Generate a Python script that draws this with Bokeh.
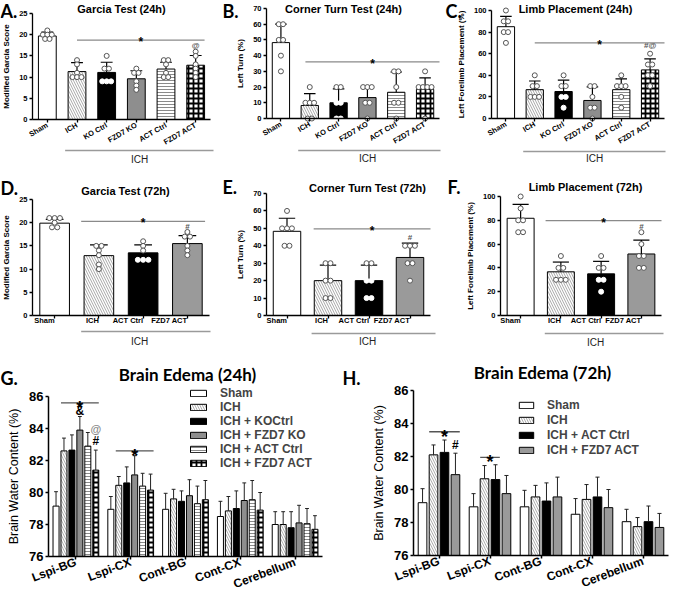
import math
from bokeh.plotting import figure
from bokeh.layouts import row, column
from bokeh.models import FixedTicker, Label, Legend, LegendItem, Range1d
from bokeh.embed import file_html
from bokeh.resources import INLINE
from bokeh.core.properties import value

# ---------------- data ----------------
a_groups = ["Sham", "ICH", "KO Ctrl", "FZD7 KO", "ACT Ctrl", "FZD7 ACT"]
a_mean = [19.7, 11.3, 11.1, 9.6, 11.9, 12.8]
a_sd = [0.9, 2.1, 2.4, 1.9, 1.6, 2.3]
a_points = [[21, 20, 20, 20, 19, 19], [14, 13, 11, 10, 10, 10], [15, 12, 12, 9, 9, 9],
            [12, 11, 11, 9, 8, 7], [14, 14, 13, 11, 10, 10], [16, 15, 13, 12, 11, 10]]
a_sig = 18.7
a_mark = ("@", 17.4)

b_groups = ["Sham", "ICH", "KO Ctrl", "FZD7 KO", "ACT Ctrl", "FZD7 ACT"]
b_mean = [48.3, 8.3, 10.0, 13.3, 16.7, 18.5]
b_sd = [11.7, 7.5, 8.9, 7.0, 12.9, 7.3]
b_points = [[60, 60, 50, 50, 40, 30], [20, 10, 10, 10, 0, 0], [20, 20, 10, 10, 0, 0],
            [20, 20, 20, 10, 10, 0], [30, 30, 20, 10, 10, 0], [30, 20, 20, 20, 20, 0]]
b_sig = 36.0
b_mark = None

c_groups = ["Sham", "ICH", "KO Ctrl", "FZD7 KO", "ACT Ctrl", "FZD7 ACT"]
c_mean = [85.0, 26.7, 25.0, 16.7, 26.7, 45.0]
c_sd = [9.5, 8.0, 10.5, 12.5, 10.0, 10.2]
c_points = [[100, 90, 90, 80, 80, 70], [40, 30, 30, 20, 20, 20], [40, 30, 30, 20, 20, 10],
            [30, 30, 20, 10, 10, 0], [40, 30, 30, 30, 20, 10], [60, 50, 50, 40, 40, 30]]
c_sig = 70.0
c_mark = ("#@", 67.5)

d_groups = ["Sham", "ICH", "ACT Ctrl", "FZD7 ACT"]
d_mean = [19.9, 12.9, 13.5, 15.5]
d_sd = [0.8, 2.3, 1.7, 1.7]
d_points = [[21, 21, 21, 20, 19, 19], [15, 15, 14, 13, 11, 10], [16, 15, 14, 12, 12, 12],
            [18, 17, 17, 15, 14, 13]]
d_sig = 20.3
d_mark = ("#", 19.1)

e_groups = ["Sham", "ICH", "ACT Ctrl", "FZD7 ACT"]
e_mean = [48.3, 20.0, 20.0, 33.3]
e_sd = [7.5, 8.9, 8.9, 8.2]
e_points = [[60, 50, 50, 50, 40, 40], [30, 30, 20, 20, 10, 10], [30, 30, 20, 20, 10, 10],
            [40, 40, 40, 30, 30, 20]]
e_sig = 49.7
e_mark = ("#", 45.0)

f_groups = ["Sham", "ICH", "ACT Ctrl", "FZD7 ACT"]
f_mean = [81.7, 36.7, 35.0, 51.7]
f_sd = [11.7, 8.2, 10.5, 11.7]
f_points = [[100, 90, 80, 80, 70, 70], [50, 40, 40, 30, 30, 30], [50, 40, 40, 30, 30, 20],
            [70, 60, 50, 50, 40, 40]]
f_sig = 79.8
f_mark = ("#", 75.0)

regions = ["Lspi-BG", "Lspi-CX", "Cont-BG", "Cont-CX", "Cerebellum"]

g_series = ["Sham", "ICH", "ICH + KOCtrl", "ICH + FZD7 KO", "ICH + ACT Ctrl", "ICH + FZD7 ACT"]
g_sham = [79.15, 78.95, 78.95, 78.5, 78.0]
g_sham_sd = [0.9, 0.8, 1.0, 0.95, 0.8]
g_ich = [82.6, 80.45, 79.6, 78.85, 78.0]
g_ich_sd = [0.8, 0.55, 0.6, 0.9, 0.8]
g_koctrl = [82.65, 80.6, 79.45, 79.0, 77.8]
g_koctrl_sd = [0.95, 1.0, 0.65, 1.1, 1.0]
g_fzd7ko = [83.9, 81.1, 79.8, 79.5, 78.1]
g_fzd7ko_sd = [0.85, 1.2, 1.0, 1.1, 1.1]
g_actctrl = [82.9, 80.4, 79.3, 79.55, 78.05]
g_actctrl_sd = [0.85, 0.8, 1.1, 1.2, 0.95]
g_fzd7act = [81.4, 80.15, 79.55, 78.9, 77.7]
g_fzd7act_sd = [1.25, 1.0, 1.2, 1.1, 0.85]
g_sig = [(0, 1, 5, 85.6), (1, 1, 5, 82.6)]          # region, first bar, last bar, y
g_marks = [("&", 0, 3, 85.1), ("@", 0, 5, 84.0), ("#", 0, 5, 83.25)]

h_series = ["Sham", "ICH", "ICH + ACT Ctrl", "ICH + FZD7 ACT"]
h_sham = [79.2, 78.95, 78.95, 78.5, 78.05]
h_sham_sd = [0.85, 0.8, 1.0, 0.95, 0.75]
h_ich = [82.1, 80.65, 79.55, 79.4, 77.75]
h_ich_sd = [0.6, 0.8, 0.7, 0.9, 0.55]
h_actctrl = [82.25, 80.6, 79.3, 79.55, 78.05]
h_actctrl_sd = [0.75, 0.9, 1.1, 1.2, 0.95]
h_fzd7act = [80.9, 79.75, 79.55, 78.9, 77.7]
h_fzd7act_sd = [1.3, 1.1, 1.2, 1.1, 0.85]
h_sig = [(0, 1, 3, 83.5), (1, 1, 2, 81.95)]
h_marks = [("#", 0, 3, 82.7)]

# ---------------- styles ----------------
FONT = "Liberation Sans"
LFONT = "Lato"
GRAY = "#9a9a9a"
PT_EDGE = "#555555"


def st(fill, hatch=None, hcolor="white", hscale=5, hweight=1.3, dark=False):
    return dict(fill=fill, hatch=hatch, hcolor=hcolor, hscale=hscale, hweight=hweight, dark=dark)


STY6 = {
    "Sham": st("white"),
    "ICH": st("#a9a9a9", "\\", "white", 5, 1.4),
    "KO Ctrl": st("black", dark=True),
    "FZD7 KO": st("#8e8e8e"),
    "ACT Ctrl": st("white", "-", "#8a8a8a", 3, 1.0),
    "FZD7 ACT": st("white", "+", "black", 5, 1.8),
}
STY4 = {
    "Sham": st("white"),
    "ICH": st("#a9a9a9", "\\", "white", 5, 1.4),
    "ACT Ctrl": st("black", dark=True),
    "FZD7 ACT": st(GRAY),
}
G_STY = [STY6[k] for k in ["Sham", "ICH", "KO Ctrl", "FZD7 KO", "ACT Ctrl", "FZD7 ACT"]]
H_STY = [STY4[k] for k in ["Sham", "ICH", "ACT Ctrl", "FZD7 ACT"]]


def swarm(vals, dx):
    counts = {}
    for v in vals:
        counts[v] = counts.get(v, 0) + 1
    seen = {}
    offs = []
    for v in vals:
        k = seen.get(v, 0)
        seen[v] = k + 1
        offs.append((k - (counts[v] - 1) / 2) * dx)
    return offs


def base_fig(canvas, axbox, xd, yd):
    """Figure whose frame is the whole canvas; axes pinned at the data origin."""
    cx0, cy0, cx1, cy1 = canvas
    fx0, fy0, fx1, fy1 = axbox
    sx = (fx1 - fx0) / (xd[1] - xd[0])
    sy = (fy1 - fy0) / (yd[1] - yd[0])
    p = figure(width=cx1 - cx0, height=cy1 - cy0,
               x_range=Range1d(xd[0] - (fx0 - cx0) / sx, xd[1] + (cx1 - fx1) / sx),
               y_range=Range1d(yd[0] - (cy1 - fy1) / sy, yd[1] + (fy0 - cy0) / sy),
               min_border=0, output_backend="svg", toolbar_location=None, tools="")
    conv = dict(px=lambda v: xd[0] + (v - fx0) / sx, py=lambda v: yd[0] + (fy1 - v) / sy,
                sx=lambda v: v - cx0, sy=lambda v: cy1 - v)
    p.xaxis.fixed_location = yd[0]
    p.xaxis.bounds = xd
    p.yaxis.fixed_location = xd[0]
    p.yaxis.bounds = yd
    p.grid.visible = False
    p.outline_line_color = None
    return p, conv


def style_axes(p, tick_size, label_size, label_style="bold", lw=1.3, ytick_size=None):
    for ax in (p.xaxis[0], p.yaxis[0]):
        ax.axis_line_width = lw
        ax.axis_line_color = "black"
        ax.major_tick_line_width = lw
        ax.major_tick_line_color = "black"
        ax.major_tick_out = 3
        ax.major_tick_in = 0
        ax.minor_tick_line_color = None
        ax.major_label_text_font = FONT
        ax.major_label_text_font_style = "bold"
        ax.major_label_text_font_size = tick_size
        ax.major_label_text_color = "black"
        ax.major_label_standoff = 2
        ax.axis_label_text_font = FONT
        ax.axis_label_text_font_style = label_style
        ax.axis_label_text_font_size = label_size
        ax.axis_label_text_color = "black"
    if ytick_size:
        p.yaxis.major_label_text_font_size = ytick_size


def label(p, x, y, text, size, font=FONT, style="bold", align="center", color="black"):
    p.add_layout(Label(x=x, y=y, x_units="screen", y_units="screen", text=text, text_font=font,
                       text_font_style=style, text_font_size=size, text_align=align,
                       text_baseline="middle", text_color=color))


def small_panel(groups, means, sds, points, sig_y, mark, styles, yticks, ylabel, title, letter, L):
    n = len(groups)
    p, c = base_fig(L["canvas"], L["axbox"], (-0.5, n - 0.5), (yticks[0], yticks[-1]))
    bw = L["bw"]
    for i, g in enumerate(groups):
        s = styles[g]
        p.vbar(x=[i], top=[means[i]], bottom=0, width=bw, fill_color=s["fill"],
               line_color="black", line_width=1, hatch_pattern=s["hatch"],
               hatch_color=s["hcolor"], hatch_scale=s["hscale"], hatch_weight=s["hweight"])
    xs = list(range(n))
    ups = [m + s for m, s in zip(means, sds)]
    p.segment(x0=xs, y0=means, x1=xs, y1=ups, line_color="black", line_width=1.2)
    cw = L["cap"]
    p.segment(x0=[x - cw / 2 for x in xs], y0=ups, x1=[x + cw / 2 for x in xs], y1=ups,
              line_color="black", line_width=1.2)
    for i, g in enumerate(groups):
        s = styles[g]
        offs = swarm(points[i], L["dx"])
        # on dark bars, points inside the bar are white dots; above it, open circles
        edges = [("white" if (s["dark"] and v <= means[i]) else PT_EDGE) for v in points[i]]
        p.scatter(x=[i + o for o in offs], y=points[i], size=L["ps"], marker="circle",
                  fill_color="white", line_color=edges, line_width=1)
    # significance line and star
    x0, x1 = L["sig"]
    p.line(x=[x0, x1], y=[sig_y, sig_y], line_color="#8a8a8a", line_width=1.2)
    p.text(x=[(x0 + x1) / 2], y=[sig_y], text=["*"], text_font=value(FONT),
           text_font_style="bold", text_font_size="12px", text_align="center",
           text_baseline="alphabetic", y_offset=2, text_color="black")
    if mark is not None:
        p.text(x=[n - 1], y=[mark[1]], text=[mark[0]], text_font=value(FONT),
               text_font_style="bold", text_font_size="8px", text_align="center",
               text_baseline="middle", text_color="#555555")
    style_axes(p, "7.5px", "8px")
    p.xaxis.ticker = FixedTicker(ticks=xs)
    p.xaxis.major_label_overrides = {i: g for i, g in enumerate(groups)}
    p.xaxis.major_label_orientation = L["rot"]
    p.yaxis.ticker = FixedTicker(ticks=yticks)
    p.yaxis.axis_label = ylabel
    p.yaxis.axis_label_standoff = 5
    # ICH bracket below the category labels
    by = c["py"](L["bry"])
    p.segment(x0=[L["br0"]], y0=[by], x1=[c["px"](L["brx1"])], y1=[by],
              line_color="#9a9a9a", line_width=1.3)
    label(p, c["sx"](L["ich"][0]), c["sy"](L["ich"][1]), "ICH", "10px", style="normal",
          color="#222222")
    label(p, c["sx"](L["title"][0]), c["sy"](L["title"][1]), title, "11px")
    label(p, c["sx"](L["letter"][0]), c["sy"](L["letter"][1]), letter, "18px", font=LFONT,
          align="left")
    return p


def edema_panel(series, means, sds, styles, sigs, marks, title, letter, L):
    k = len(series)
    p, c = base_fig(L["canvas"], L["axbox"], (-0.5, len(regions) - 0.5), (76, 86))
    pitch, bw = L["pitch"], L["bw"]
    rx = list(range(len(regions)))
    items = []

    def bx(r, j):
        return r + (j - (k - 1) / 2) * pitch

    for j in range(k):
        s = styles[j]
        xs = [bx(r, j) for r in rx]
        rend = p.vbar(x=xs, top=means[j], bottom=76, width=bw, fill_color=s["fill"],
                      line_color="black", line_width=1, hatch_pattern=s["hatch"],
                      hatch_color=s["hcolor"], hatch_scale=s["hscale"], hatch_weight=s["hweight"])
        items.append(LegendItem(label=series[j], renderers=[rend]))
        ups = [m + d for m, d in zip(means[j], sds[j])]
        p.segment(x0=xs, y0=means[j], x1=xs, y1=ups, line_color="#222222", line_width=1)
        p.segment(x0=[x - L["cap"] / 2 for x in xs], y0=ups, x1=[x + L["cap"] / 2 for x in xs],
                  y1=ups, line_color="#222222", line_width=1)
    for (r, j0, j1, y) in sigs:
        xa, xb = bx(r, j0) - bw / 2, bx(r, j1) + bw / 2
        p.line(x=[xa, xb], y=[y, y], line_color="#555555", line_width=1.3)
        p.text(x=[(xa + xb) / 2], y=[y], text=["*"], text_font=value(FONT),
               text_font_style="bold", text_font_size="18px", text_align="center",
               text_baseline="alphabetic", y_offset=5, text_color="black")
    for (t, r, j, y) in marks:
        p.text(x=[bx(r, j)], y=[y], text=[t], text_font=value(FONT), text_font_style="bold",
               text_font_size="12px" if t != "@" else "11px", text_align="center",
               text_baseline="middle", text_color="#888888" if t == "@" else "black")
    cx0, cy0, cx1, cy1 = L["canvas"]
    lx, lbot = L["leg"]
    legend = Legend(items=items, location=(lx - cx0 - 2, cy1 - lbot - 2),
                    background_fill_alpha=0, border_line_color=None, label_text_font=FONT,
                    label_text_font_style="bold", label_text_font_size="12px",
                    glyph_width=L["gw"], glyph_height=8, label_standoff=12, spacing=L["lsp"],
                    padding=2, margin=0, label_height=12)
    p.add_layout(legend)
    style_axes(p, "12px", "12.5px", label_style="normal", lw=1.5, ytick_size="13px")
    p.xaxis.ticker = FixedTicker(ticks=rx)
    p.xaxis.major_label_overrides = {i: g for i, g in enumerate(regions)}
    p.xaxis.major_label_orientation = 0.36
    p.yaxis.ticker = FixedTicker(ticks=[76, 78, 80, 82, 84, 86])
    p.yaxis.axis_label = "Brain Water Content (%)"
    p.yaxis.axis_label_standoff = 5
    label(p, c["sx"](L["title"][0]), c["sy"](L["title"][1]), title, "17px", font=LFONT)
    label(p, c["sx"](L["letter"][0]), c["sy"](L["letter"][1]), letter, "18px", font=LFONT,
          align="left")
    return p


# ---------------- layout (page pixel positions) ----------------
R6 = math.pi / 6
Y1, Y2, Y3, Y4 = 8, 178, 362, 607
LA = dict(canvas=(8, Y1, 225, Y2), axbox=(40, 21, 218, 127), bw=0.6, cap=0.4, dx=0.15, ps=5,
          rot=R6, sig=(1.0, 5.3), br0=0.6, brx1=221, bry=158, ich=(147, 167),
          title=(129, 16), letter=(8, 18))
LB = dict(canvas=(225, Y1, 450, Y2), axbox=(274, 16, 447, 126), bw=0.6, cap=0.4, dx=0.15, ps=5,
          rot=R6, sig=(0.85, 5.5), br0=0.6, brx1=448, bry=158, ich=(375, 166),
          title=(351, 16), letter=(230, 18))
LC = dict(canvas=(450, Y1, 677, Y2), axbox=(499, 18, 672, 126), bw=0.6, cap=0.4, dx=0.15, ps=5,
          rot=R6, sig=(1.0, 5.5), br0=0.6, brx1=673, bry=159, ich=(602, 166),
          title=(583, 16), letter=(453, 18))
LD = dict(canvas=(8, Y2, 225, Y3), axbox=(40, 207, 217, 323), bw=0.67, cap=0.4, dx=0.12, ps=5,
          rot=0, sig=(0.6, 3.4), br0=0.6, brx1=218, bry=339, ich=(147, 349),
          title=(133, 198), letter=(8, 195))
LE = dict(canvas=(225, Y2, 452, Y3), axbox=(274, 201, 438, 323), bw=0.67, cap=0.4, dx=0.12,
          ps=5, rot=0, sig=(0.65, 3.5), br0=0.6, brx1=443, bry=341, ich=(375, 349),
          title=(375, 195), letter=(230, 194))
LF = dict(canvas=(452, Y2, 677, Y3), axbox=(508, 204, 669, 323), bw=0.67, cap=0.4, dx=0.12,
          ps=5, rot=0, sig=(0.62, 3.5), br0=0.6, brx1=671, bry=341, ich=(603, 350),
          title=(593, 194), letter=(455, 194))
LG = dict(canvas=(8, Y3, 345, Y4), axbox=(56, 404, 330, 564), pitch=0.145, bw=0.11, cap=0.07,
          leg=(198, 476), lsp=0, gw=20, title=(195, 382), letter=(8, 385))
LH = dict(canvas=(345, Y3, 677, Y4), axbox=(421, 398, 676, 563), pitch=0.215, bw=0.17,
          cap=0.08, leg=(527, 463), lsp=1, gw=18, title=(550, 380), letter=(350, 385))

pA = small_panel(a_groups, a_mean, a_sd, a_points, a_sig, a_mark, STY6, [0, 5, 10, 15, 20, 25],
                 "Modified Garcia Score", "Garcia Test (24h)", "A.", LA)
pB = small_panel(b_groups, b_mean, b_sd, b_points, b_sig, b_mark, STY6, list(range(0, 71, 10)),
                 "Left Turn (%)", "Corner Turn Test (24h)", "B.", LB)
pC = small_panel(c_groups, c_mean, c_sd, c_points, c_sig, c_mark, STY6, list(range(0, 101, 20)),
                 "Left Forelimb Placement (%)", "Limb Placement (24h)", "C.", LC)
pD = small_panel(d_groups, d_mean, d_sd, d_points, d_sig, d_mark, STY4, [0, 5, 10, 15, 20, 25],
                 "Modified Garcia Score", "Garcia Test (72h)", "D.", LD)
pE = small_panel(e_groups, e_mean, e_sd, e_points, e_sig, e_mark, STY4, list(range(0, 71, 10)),
                 "Left Turn (%)", "Corner Turn Test (72h)", "E.", LE)
pF = small_panel(f_groups, f_mean, f_sd, f_points, f_sig, f_mark, STY4, list(range(0, 101, 20)),
                 "Left Forelimb Placement (%)", "Limb Placement (72h)", "F.", LF)
pG = edema_panel(g_series, [g_sham, g_ich, g_koctrl, g_fzd7ko, g_actctrl, g_fzd7act],
                 [g_sham_sd, g_ich_sd, g_koctrl_sd, g_fzd7ko_sd, g_actctrl_sd, g_fzd7act_sd],
                 G_STY, g_sig, g_marks, "Brain Edema (24h)", "G.", LG)
pH = edema_panel(h_series, [h_sham, h_ich, h_actctrl, h_fzd7act],
                 [h_sham_sd, h_ich_sd, h_actctrl_sd, h_fzd7act_sd],
                 H_STY, h_sig, h_marks, "Brain Edema (72h)", "H.", LH)

layout = column(row(pA, pB, pC), row(pD, pE, pF), row(pG, pH))
open("out.html", "w").write(file_html(layout, INLINE))
